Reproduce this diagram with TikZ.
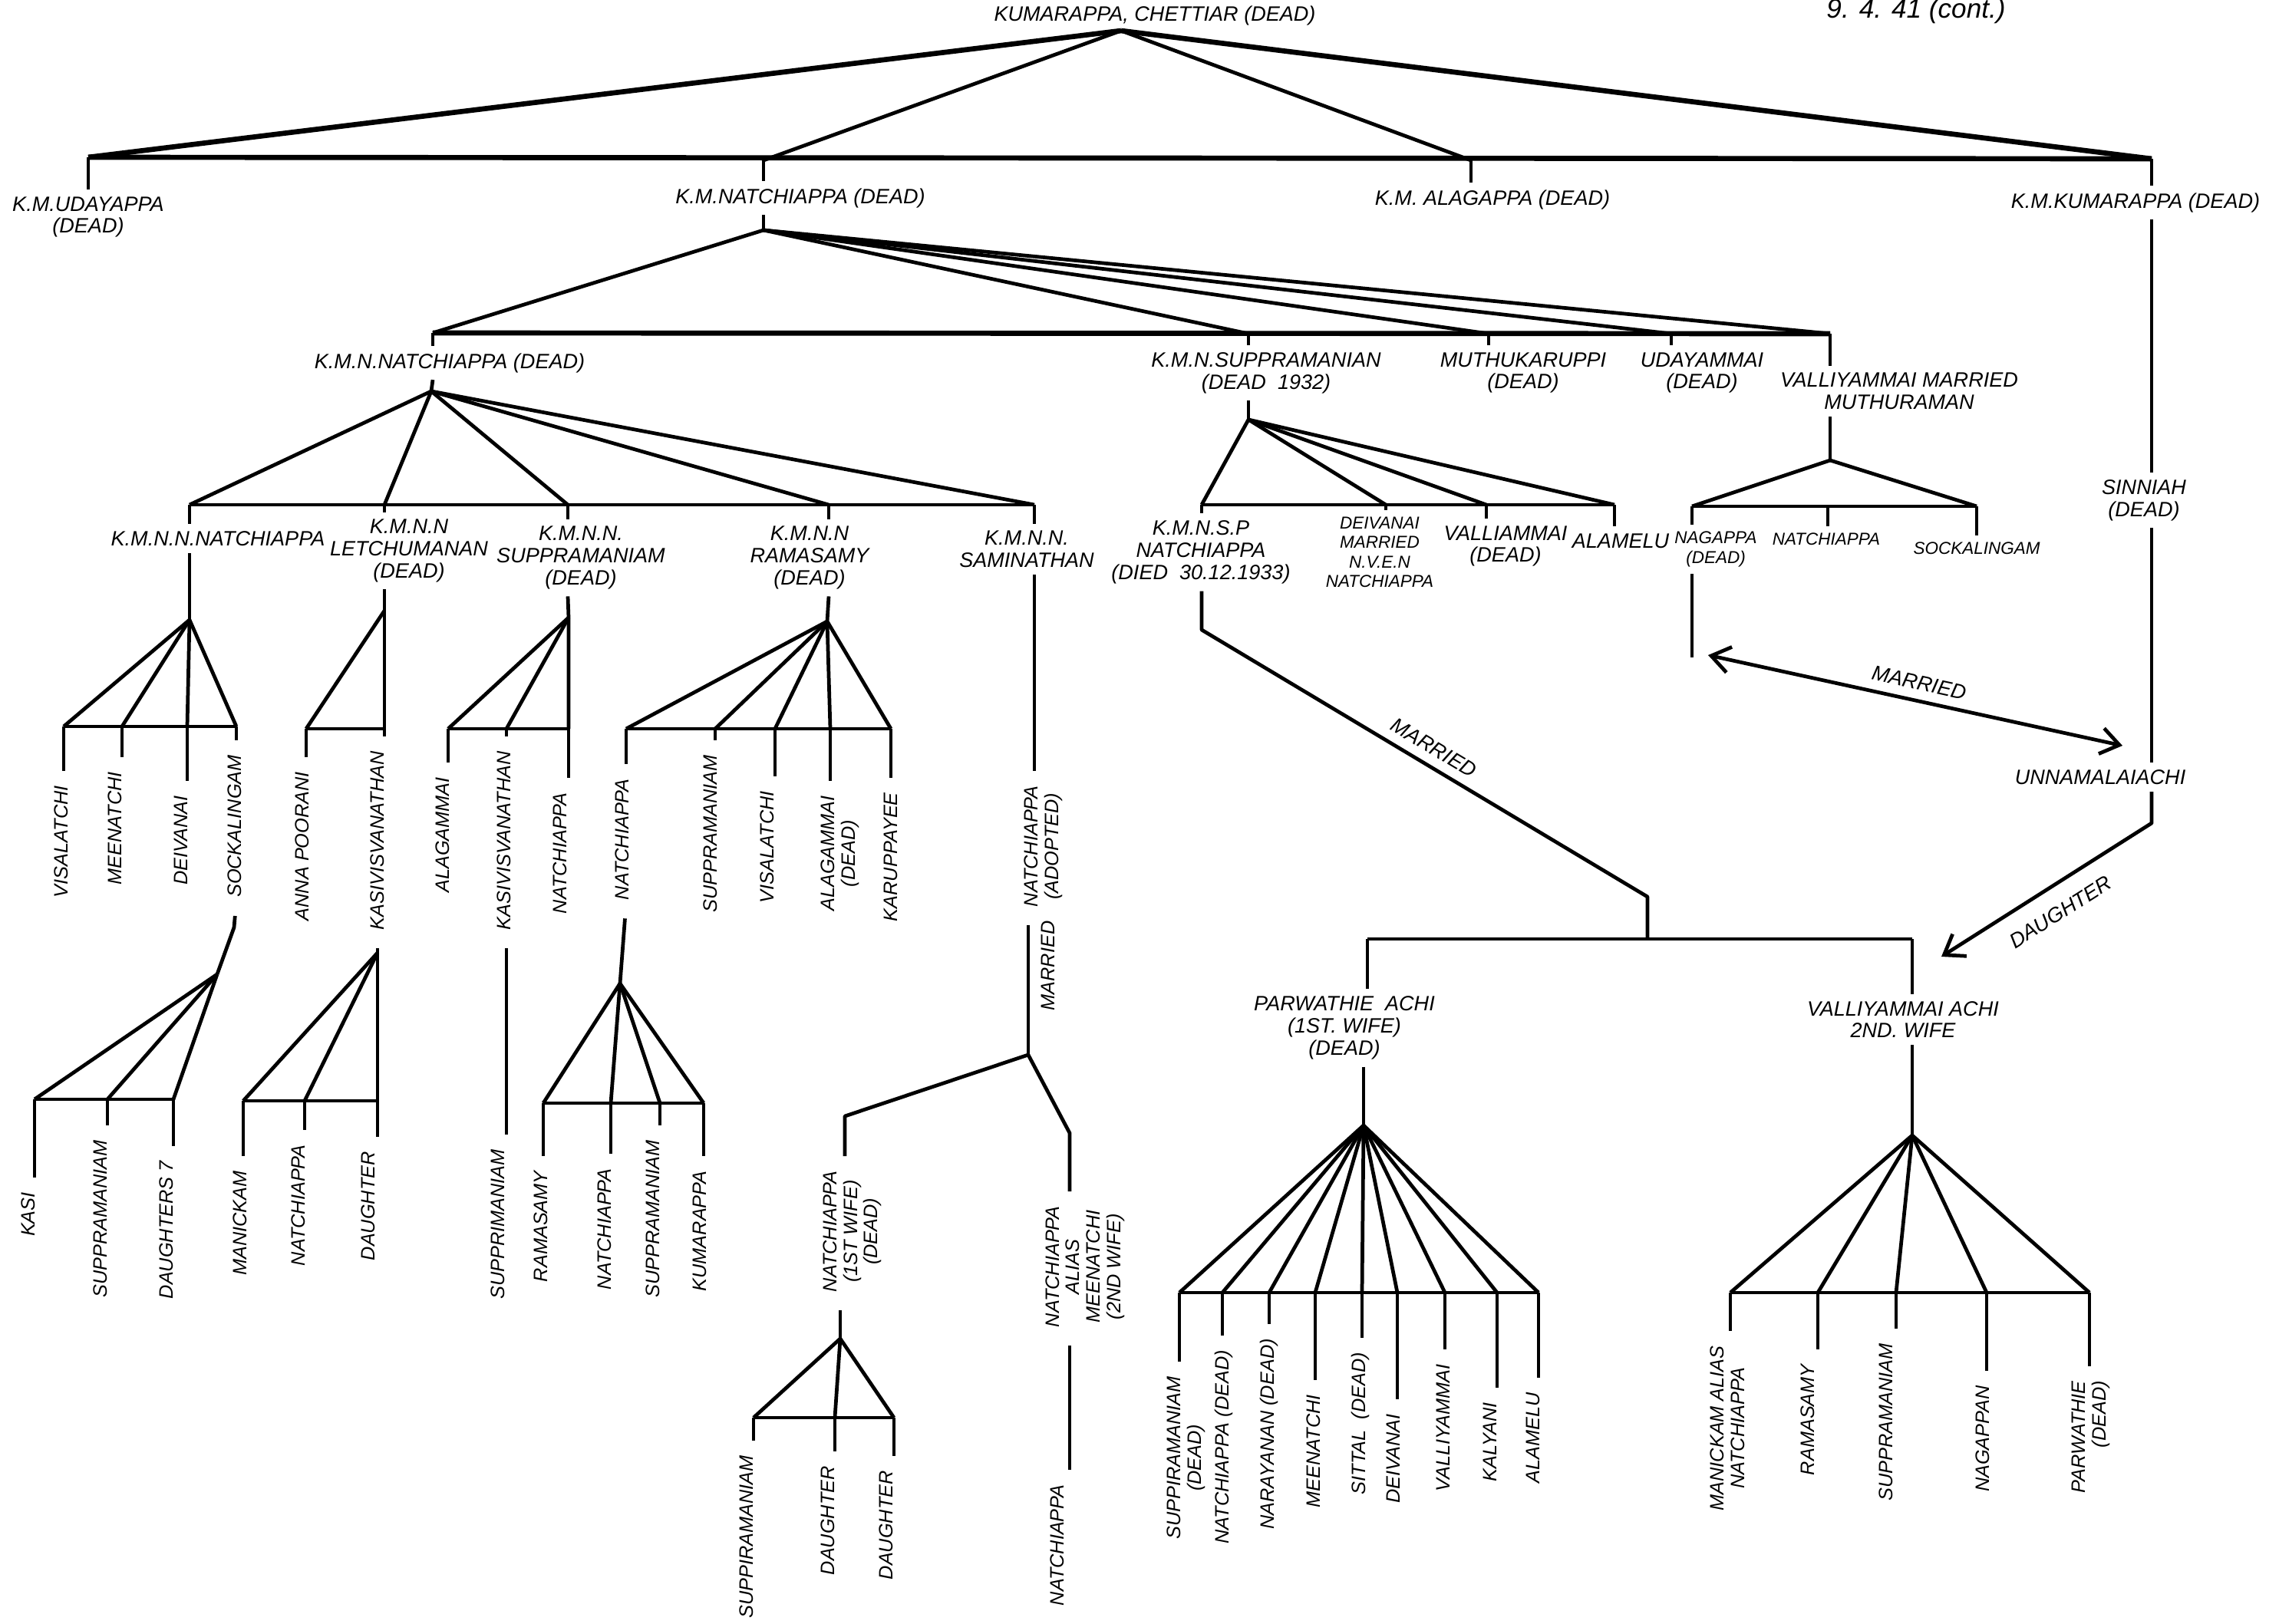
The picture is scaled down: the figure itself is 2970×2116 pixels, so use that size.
\documentclass[tikz,border=0pt]{standalone}
\usepackage{fontspec}
\setsansfont{Liberation Sans}
\usepackage{tikz}
\usetikzlibrary{arrows.meta,calc}
\newcommand{\handfont}{\sffamily\itshape\fontsize{7.7}{8.2}\selectfont}
\newcommand{\smallhand}{\sffamily\itshape\fontsize{6.4}{7.2}\selectfont}
\newcommand{\vhandfont}{\sffamily\itshape\fontsize{7.2}{7.6}\selectfont}

\begin{document}
\begin{tikzpicture}[x=0.1mm, y=-0.1mm,
  lbl/.style={font=\handfont, align=center, inner sep=2.5pt},
  vlbl/.style={font=\vhandfont, rotate=90, anchor=east, align=center, inner sep=1pt},
  tie/.style={line width=1.35pt, line join=round},
  bar/.style={line width=1.9pt, line join=round},
  dropline/.style={tie, shorten >=1.5mm},
  stemline/.style={tie, shorten <=2mm},
  linkline/.style={tie, shorten <=2mm, shorten >=1.5mm},
  barb/.style={tie, -{Straight Barb[length=2.4mm, width=3.4mm]}},
  dbarb/.style={tie, {Straight Barb[length=2.4mm, width=3.4mm]}-{Straight Barb[length=2.4mm, width=3.4mm]}}
]
\fill[white] (0,0) rectangle (2970,2116);
\useasboundingbox (0,0) rectangle (2970,2116);

\node[lbl] (root) at (1505,20) {KUMARAPPA, CHETTIAR (DEAD)};
\node[lbl, font=\sffamily\itshape\fontsize{10}{10}\selectfont] (date) at (2497,14) {9. 4. 41 (cont.)};
\coordinate (r0) at (1461,40);
\coordinate (j1a) at (115,205); \coordinate (j1b) at (995,209); \coordinate (j1c) at (1917,209); \coordinate (j1d) at (2804,207);
\draw[bar] (j1a) -- (j1d);
\draw[bar] (r0) -- (j1a); \draw[tie] (r0) -- (j1b); \draw[tie] (r0) -- (j1c); \draw[bar] (r0) -- (j1d);
\node[lbl] (udaya) at (115,283) {K.M.UDAYAPPA\\(DEAD)};
\node[lbl] (natch) at (1043,258) {K.M.NATCHIAPPA (DEAD)};
\node[lbl] (alaga) at (1945,260) {K.M. ALAGAPPA (DEAD)};
\node[lbl] (kumar) at (2783,264) {K.M.KUMARAPPA (DEAD)};
\draw[tie] (j1a) -- (j1a |- udaya.north); \draw[tie] (j1b) -- (j1b |- natch.north); \draw[tie] (j1c) -- (j1c |- alaga.north); \draw[tie] (j1d) -- (j1d |- kumar.north);

\coordinate (n0) at (995,300);
\coordinate (j2a) at (564,434); \coordinate (j2b) at (1627,435); \coordinate (j2c) at (1940,435); \coordinate (j2d) at (2178,435); \coordinate (j2e) at (2385,435);
\draw[tie] (j1b |- natch.south) -- (n0);
\draw[bar] (j2a) -- (j2e);
\draw[tie] (n0) -- (j2a); \draw[tie] (n0) -- (j2b); \draw[tie] (n0) -- (j2c); \draw[tie] (n0) -- (j2d); \draw[tie] (n0) -- (j2e);
\node[lbl] (kmnn) at (586,473) {K.M.N.NATCHIAPPA (DEAD)};
\node[lbl] (kmns) at (1650,486) {K.M.N.SUPPRAMANIAN\\(DEAD~~1932)};
\node[lbl] (muthu) at (1985,486) {MUTHUKARUPPI\\(DEAD)};
\node[lbl] (udaym) at (2218,486) {UDAYAMMAI\\(DEAD)};
\node[lbl] (valli) at (2475,510) {VALLIYAMMAI MARRIED\\MUTHURAMAN};
\draw[tie] (j2a) -- (j2a |- kmnn.north); \draw[tie] (j2b) -- (j2b |- kmns.north); \draw[tie] (j2c) -- (j2c |- muthu.north); \draw[tie] (j2d) -- (j2d |- udaym.north); \draw[tie] (j2e) -- (j2e |- valli.north);

\node[lbl] (sinn) at (2794,652) {SINNIAH\\(DEAD)};
\node[lbl] (unnam) at (2737,1013) {UNNAMALAIACHI};
\draw[tie] (j1d |- kumar.south) -- (j1d |- sinn.north);
\draw[tie] (j1d |- sinn.south) -- (j1d |- unnam.north);
\coordinate (dbend) at (2804,1073); \coordinate (dtip) at (2530,1247);
\draw[barb] (j1d |- unnam.south) -- (dbend) -- node[sloped, below=3pt, font=\handfont] {DAUGHTER} (dtip);

\coordinate (va0) at (2385,600);
\coordinate (v1) at (2205,660); \coordinate (v2) at (2382,660); \coordinate (v3) at (2576,660);
\draw[tie] (j2e |- valli.south) -- (va0);
\draw[tie] (va0) -- (v1); \draw[tie] (va0) -- (v3); \draw[tie] (v1) -- (v3);
\node[lbl, font=\smallhand] (nagap) at (2236,716) {NAGAPPA\\(DEAD)};
\node[lbl, font=\smallhand] (natc) at (2380,703) {NATCHIAPPA};
\node[lbl, font=\smallhand] (sock) at (2576,715) {SOCKALINGAM};
\draw[tie] (v1) -- (v1 |- nagap.north); \draw[tie] (v2) -- (v2 |- natc.north); \draw[tie] (v3) -- (v3 |- sock.north);
\coordinate (nagL) at (2205,857);
\draw[tie] (v1 |- nagap.south) -- (nagL);
\coordinate (mL) at (2226,854); \coordinate (mR) at (2766,972);
\draw[dbarb] (mL) -- node[sloped, above, font=\handfont] {MARRIED} (mR);

\coordinate (s0) at (1627,547);
\coordinate (e1) at (1566,658); \coordinate (e2) at (1806,658); \coordinate (e3) at (1937,658); \coordinate (e4) at (2104,658);
\draw[tie] (j2b |- kmns.south) -- (s0);
\draw[tie] (e1) -- (e4);
\draw[tie] (s0) -- (e1); \draw[tie] (s0) -- (e2); \draw[tie] (s0) -- (e3); \draw[tie] (s0) -- (e4);
\node[lbl] (kmnsp) at (1565,720) {K.M.N.S.P\\NATCHIAPPA\\(DIED~~30.12.1933)};
\node[lbl, font=\smallhand] (deiv) at (1798,720) {DEIVANAI\\MARRIED\\N.V.E.N\\NATCHIAPPA};
\node[lbl] (vallm) at (1962,712) {VALLIAMMAI\\(DEAD)};
\node[lbl] (alam) at (2112,705) {ALAMELU};
\draw[tie] (e1) -- (e1 |- kmnsp.north); \draw[tie] (e2) -- (e2 |- deiv.north); \draw[tie] (e3) -- (e3 |- vallm.north); \draw[tie] (e4) -- (e4 |- alam.north);
\coordinate (mb1) at (1566,821); \coordinate (mb2) at (2147,1169); \coordinate (wj) at (2147,1224);
\draw[tie] (e1 |- kmnsp.south) -- (mb1) -- node[sloped, above, font=\handfont] {MARRIED} (mb2) -- (wj);

\coordinate (wa) at (1782,1224); \coordinate (wb) at (2492,1224);
\draw[tie] (wa) -- (wb);
\node[lbl] (parw) at (1752,1340) {PARWATHIE~~ACHI\\(1ST. WIFE)\\(DEAD)};
\node[lbl] (vachi) at (2480,1329) {VALLIYAMMAI ACHI\\2ND. WIFE};
\draw[tie] (wa) -- (wa |- parw.north); \draw[tie] (wb) -- (wb |- vachi.north);

\coordinate (pa0) at (1777,1467);
\draw[tie] (pa0 |- parw.south) -- (pa0);
\coordinate (p1) at (1537,1685); \coordinate (p2) at (1593,1685); \coordinate (p3) at (1654,1685); \coordinate (p4) at (1714,1685); \coordinate (p5) at (1775,1685);
\coordinate (p6) at (1821,1685); \coordinate (p7) at (1883,1685); \coordinate (p8) at (1951,1685); \coordinate (p9) at (2005,1685);
\draw[tie] (p1) -- (p9);
\draw[tie] (pa0) -- (p1); \draw[tie] (pa0) -- (p2); \draw[tie] (pa0) -- (p3); \draw[tie] (pa0) -- (p4); \draw[tie] (pa0) -- (p5);
\draw[tie] (pa0) -- (p6); \draw[tie] (pa0) -- (p7); \draw[tie] (pa0) -- (p8); \draw[tie] (pa0) -- (p9);
\node[vlbl] (pw1) at (1546,1790) {SUPPIRAMANIAM\\(DEAD)};
\node[vlbl] (pw2) at (1595,1756) {NATCHIAPPA (DEAD)};
\node[vlbl] (pw3) at (1654,1741) {NARAYANAN (DEAD)};
\node[vlbl] (pw4) at (1712,1814) {MEENATCHI};
\node[vlbl] (pw5) at (1773,1759) {SITTAL~~(DEAD)};
\node[vlbl] (pw6) at (1816,1839) {DEIVANAI};
\node[vlbl] (pw7) at (1881,1774) {VALLIYAMMAI};
\node[vlbl] (pw8) at (1942,1824) {KALYANI};
\node[vlbl] (pw9) at (1998,1811) {ALAMELU};
\draw[dropline] (p1) -- (p1 |- pw1.east); \draw[dropline] (p2) -- (p2 |- pw2.east); \draw[dropline] (p3) -- (p3 |- pw3.east);
\draw[dropline] (p4) -- (p4 |- pw4.east); \draw[dropline] (p5) -- (p5 |- pw5.east); \draw[dropline] (p6) -- (p6 |- pw6.east);
\draw[dropline] (p7) -- (p7 |- pw7.east); \draw[dropline] (p8) -- (p8 |- pw8.east); \draw[dropline] (p9) -- (p9 |- pw9.east);

\coordinate (vc0) at (2492,1480);
\draw[tie] (wb |- vachi.south) -- (vc0);
\coordinate (q1) at (2255,1685); \coordinate (q2) at (2369,1685); \coordinate (q3) at (2471,1685); \coordinate (q4) at (2589,1685); \coordinate (q5) at (2723,1685);
\draw[tie] (q1) -- (q5);
\draw[tie] (vc0) -- (q1); \draw[tie] (vc0) -- (q2); \draw[tie] (vc0) -- (q3); \draw[tie] (vc0) -- (q4); \draw[tie] (vc0) -- (q5);
\node[vlbl] (vw1) at (2251,1750) {MANICKAM ALIAS\\NATCHIAPPA};
\node[vlbl] (vw2) at (2356,1774) {RAMASAMY};
\node[vlbl] (vw3) at (2458,1747) {SUPPRAMANIAM};
\node[vlbl] (vw4) at (2584,1802) {NAGAPPAN};
\node[vlbl, align=right] (vw5) at (2725,1796) {PARWATHIE\\(DEAD)};
\draw[dropline] (q1) -- (q1 |- vw1.east); \draw[dropline] (q2) -- (q2 |- vw2.east); \draw[dropline] (q3) -- (q3 |- vw3.east);
\draw[dropline] (q4) -- (q4 |- vw4.east); \draw[dropline] (q5) -- (q5 |- vw5.east);

\coordinate (n1) at (562,510);
\coordinate (k1) at (247,658); \coordinate (k2) at (501,658); \coordinate (k3) at (740,658); \coordinate (k4) at (1080,658); \coordinate (k5) at (1348,658);
\draw[tie] (j2a |- kmnn.south) -- (n1);
\draw[tie] (k1) -- (k5);
\draw[tie] (n1) -- (k1); \draw[tie] (n1) -- (k2); \draw[tie] (n1) -- (k3); \draw[tie] (n1) -- (k4); \draw[tie] (n1) -- (k5);
\node[lbl] (kmnn1) at (284,702) {K.M.N.N.NATCHIAPPA};
\node[lbl] (kmnn2) at (533,718) {K.M.N.N\\LETCHUMANAN\\(DEAD)};
\node[lbl] (kmnn3) at (757,727) {K.M.N.N.\\SUPPRAMANIAM\\(DEAD)};
\node[lbl] (kmnn4) at (1055,727) {K.M.N.N\\RAMASAMY\\(DEAD)};
\node[lbl] (kmnn5) at (1338,716) {K.M.N.N.\\SAMINATHAN};
\draw[tie] (k1) -- (k1 |- kmnn1.north); \draw[tie] (k2) -- (k2 |- kmnn2.north); \draw[tie] (k3) -- (k3 |- kmnn3.north); \draw[tie] (k4) -- (k4 |- kmnn4.north); \draw[tie] (k5) -- (k5 |- kmnn5.north);

\coordinate (a1) at (247,808);
\coordinate (c1a) at (83,947); \coordinate (c1b) at (159,947); \coordinate (c1c) at (244,947); \coordinate (c1d) at (308,947);
\draw[tie] (k1 |- kmnn1.south) -- (a1);
\draw[tie] (c1a) -- (c1d);
\draw[tie] (a1) -- (c1a); \draw[tie] (a1) -- (c1b); \draw[tie] (a1) -- (c1c); \draw[tie] (a1) -- (c1d);
\node[vlbl] (visal) at (80,1020) {VISALATCHI};
\node[vlbl] (meena) at (150,1002) {MEENATCHI};
\node[vlbl] (deiva) at (236,1033) {DEIVANAI};
\node[vlbl] (sockal) at (306,980) {SOCKALINGAM};
\draw[dropline] (c1a) -- (c1a |- visal.east); \draw[dropline] (c1b) -- (c1b |- meena.east); \draw[dropline] (c1c) -- (c1c |- deiva.east); \draw[dropline] (c1d) -- (c1d |- sockal.east);

\coordinate (s1k) at (305,1209); \coordinate (b1) at (283,1270);
\coordinate (d1a) at (45,1433); \coordinate (d1b) at (140,1433); \coordinate (d1c) at (226,1433);
\draw[stemline] (c1d |- sockal.west) -- (s1k) -- (b1);
\draw[tie] (d1a) -- (d1c);
\draw[tie] (b1) -- (d1a); \draw[tie] (b1) -- (d1b); \draw[tie] (b1) -- (d1c);
\node[vlbl] (kasi1) at (37,1550) {KASI};
\node[vlbl] (supp1) at (131,1482) {SUPPRAMANIAM};
\node[vlbl] (daugs1) at (217,1509) {DAUGHTERS 7};
\draw[dropline] (d1a) -- (d1a |- kasi1.east); \draw[dropline] (d1b) -- (d1b |- supp1.east); \draw[dropline] (d1c) -- (d1c |- daugs1.east);

\coordinate (a2) at (501,796);
\coordinate (c2a) at (399,950); \coordinate (c2b) at (501,950);
\draw[tie] (k2 |- kmnn2.south) -- (a2) -- (c2b);
\draw[tie] (a2) -- (c2a); \draw[tie] (c2a) -- (c2b);
\node[vlbl] (annap) at (394,1002) {ANNA POORANI};
\node[vlbl] (kasi2) at (492,975) {KASIVISVANATHAN};
\draw[dropline] (c2a) -- (c2a |- annap.east); \draw[dropline] (c2b) -- (c2b |- kasi2.east);

\coordinate (b2) at (492,1242);
\coordinate (d2a) at (317,1435); \coordinate (d2b) at (397,1435); \coordinate (d2c) at (492,1435);
\draw[stemline] (b2 |- kasi2.west) -- (b2);
\draw[tie] (d2a) -- (d2c);
\draw[tie] (b2) -- (d2a); \draw[tie] (b2) -- (d2b); \draw[tie] (b2) -- (d2c);
\node[vlbl] (mani2) at (313,1522) {MANICKAM};
\node[vlbl] (natc2) at (389,1488) {NATCHIAPPA};
\node[vlbl] (daug2) at (480,1497) {DAUGHTER};
\draw[dropline] (d2a) -- (d2a |- mani2.east); \draw[dropline] (d2b) -- (d2b |- natc2.east); \draw[dropline] (d2c) -- (d2c |- daug2.east);

\coordinate (a3) at (741,805);
\coordinate (c3a) at (584,950); \coordinate (c3b) at (660,950); \coordinate (c3c) at (741,950);
\draw[tie] (k3 |- kmnn3.south) -- (a3) -- (c3c);
\draw[tie] (a3) -- (c3a); \draw[tie] (a3) -- (c3b); \draw[tie] (c3a) -- (c3c);
\node[vlbl] (alag3) at (577,1009) {ALAGAMMAI};
\node[vlbl] (kasi3) at (657,975) {KASIVISVANATHAN};
\node[vlbl] (natc3) at (730,1029) {NATCHIAPPA};
\draw[dropline] (c3a) -- (c3a |- alag3.east); \draw[dropline] (c3b) -- (c3b |- kasi3.east); \draw[dropline] (c3c) -- (c3c |- natc3.east);
\node[vlbl] (suppri3) at (649,1494) {SUPPRIMANIAM};
\draw[linkline] (c3b |- kasi3.west) -- (c3b |- suppri3.east);

\coordinate (a4) at (1078,810);
\coordinate (c4a) at (816,950); \coordinate (c4b) at (932,950); \coordinate (c4c) at (1010,950); \coordinate (c4d) at (1082,950); \coordinate (c4e) at (1161,950);
\draw[tie] (k4 |- kmnn4.south) -- (a4);
\draw[tie] (c4a) -- (c4e);
\draw[tie] (a4) -- (c4a); \draw[tie] (a4) -- (c4b); \draw[tie] (a4) -- (c4c); \draw[tie] (a4) -- (c4d); \draw[tie] (a4) -- (c4e);
\node[vlbl] (natc4) at (811,1011) {NATCHIAPPA};
\node[vlbl] (supp4) at (926,980) {SUPPRAMANIAM};
\node[vlbl] (visa4) at (1000,1027) {VISALATCHI};
\node[vlbl] (alag4) at (1095,1033) {ALAGAMMAI\\(DEAD)};
\node[vlbl] (karu4) at (1161,1029) {KARUPPAYEE};
\draw[dropline] (c4a) -- (c4a |- natc4.east); \draw[dropline] (c4b) -- (c4b |- supp4.east); \draw[dropline] (c4c) -- (c4c |- visa4.east);
\draw[dropline] (c4d) -- (c4d |- alag4.east); \draw[dropline] (c4e) -- (c4e |- karu4.east);

\coordinate (b4) at (808,1282);
\coordinate (d4a) at (708,1438); \coordinate (d4b) at (796,1438); \coordinate (d4c) at (860,1438); \coordinate (d4d) at (917,1438);
\draw[stemline] (c4a |- natc4.west) -- (b4);
\draw[tie] (d4a) -- (d4d);
\draw[tie] (b4) -- (d4a); \draw[tie] (b4) -- (d4b); \draw[tie] (b4) -- (d4c); \draw[tie] (b4) -- (d4d);
\node[vlbl] (rama4) at (705,1522) {RAMASAMY};
\node[vlbl] (natc4b) at (788,1519) {NATCHIAPPA};
\node[vlbl] (supp4b) at (851,1482) {SUPPRAMANIAM};
\node[vlbl] (kuma4) at (912,1522) {KUMARAPPA};
\draw[dropline] (d4a) -- (d4a |- rama4.east); \draw[dropline] (d4b) -- (d4b |- natc4b.east); \draw[dropline] (d4c) -- (d4c |- supp4b.east); \draw[dropline] (d4d) -- (d4d |- kuma4.east);

\node[vlbl] (adopt) at (1360,1020) {NATCHIAPPA\\(ADOPTED)};
\draw[dropline] (k5 |- kmnn5.south) -- (k5 |- adopt.east);
\coordinate (mj) at (1340,1375);
\draw[stemline] (mj |- adopt.west) -- (mj);
\node[font=\vhandfont, rotate=90] (marr5) at (1366,1259) {MARRIED};
\coordinate (w1b) at (1101,1455); \coordinate (w2b) at (1394,1477);
\node[vlbl] (wife1) at (1111,1522) {NATCHIAPPA\\(1ST WIFE)\\(DEAD)};
\node[vlbl] (wife2) at (1414,1568) {NATCHIAPPA\\ALIAS\\MEENATCHI\\(2ND WIFE)};
\draw[dropline] (mj) -- (w1b) -- (w1b |- wife1.east);
\draw[dropline] (mj) -- (w2b) -- (w2b |- wife2.east);
\node[vlbl] (natc5) at (1378,1931) {NATCHIAPPA};
\draw[linkline] (w2b |- wife2.west) -- (w2b |- natc5.east);

\coordinate (b5) at (1095,1745);
\coordinate (d5a) at (982,1848); \coordinate (d5b) at (1088,1848); \coordinate (d5c) at (1165,1848);
\draw[stemline] (b5 |- wife1.west) -- (b5);
\draw[tie] (d5a) -- (d5c);
\draw[tie] (b5) -- (d5a); \draw[tie] (b5) -- (d5b); \draw[tie] (b5) -- (d5c);
\node[vlbl] (supp5) at (973,1893) {SUPPIRAMANIAM};
\node[vlbl] (daug5a) at (1079,1907) {DAUGHTER};
\node[vlbl] (daug5b) at (1155,1913) {DAUGHTER};
\draw[dropline] (d5a) -- (d5a |- supp5.east); \draw[dropline] (d5b) -- (d5b |- daug5a.east); \draw[dropline] (d5c) -- (d5c |- daug5b.east);
\end{tikzpicture}
\end{document}
